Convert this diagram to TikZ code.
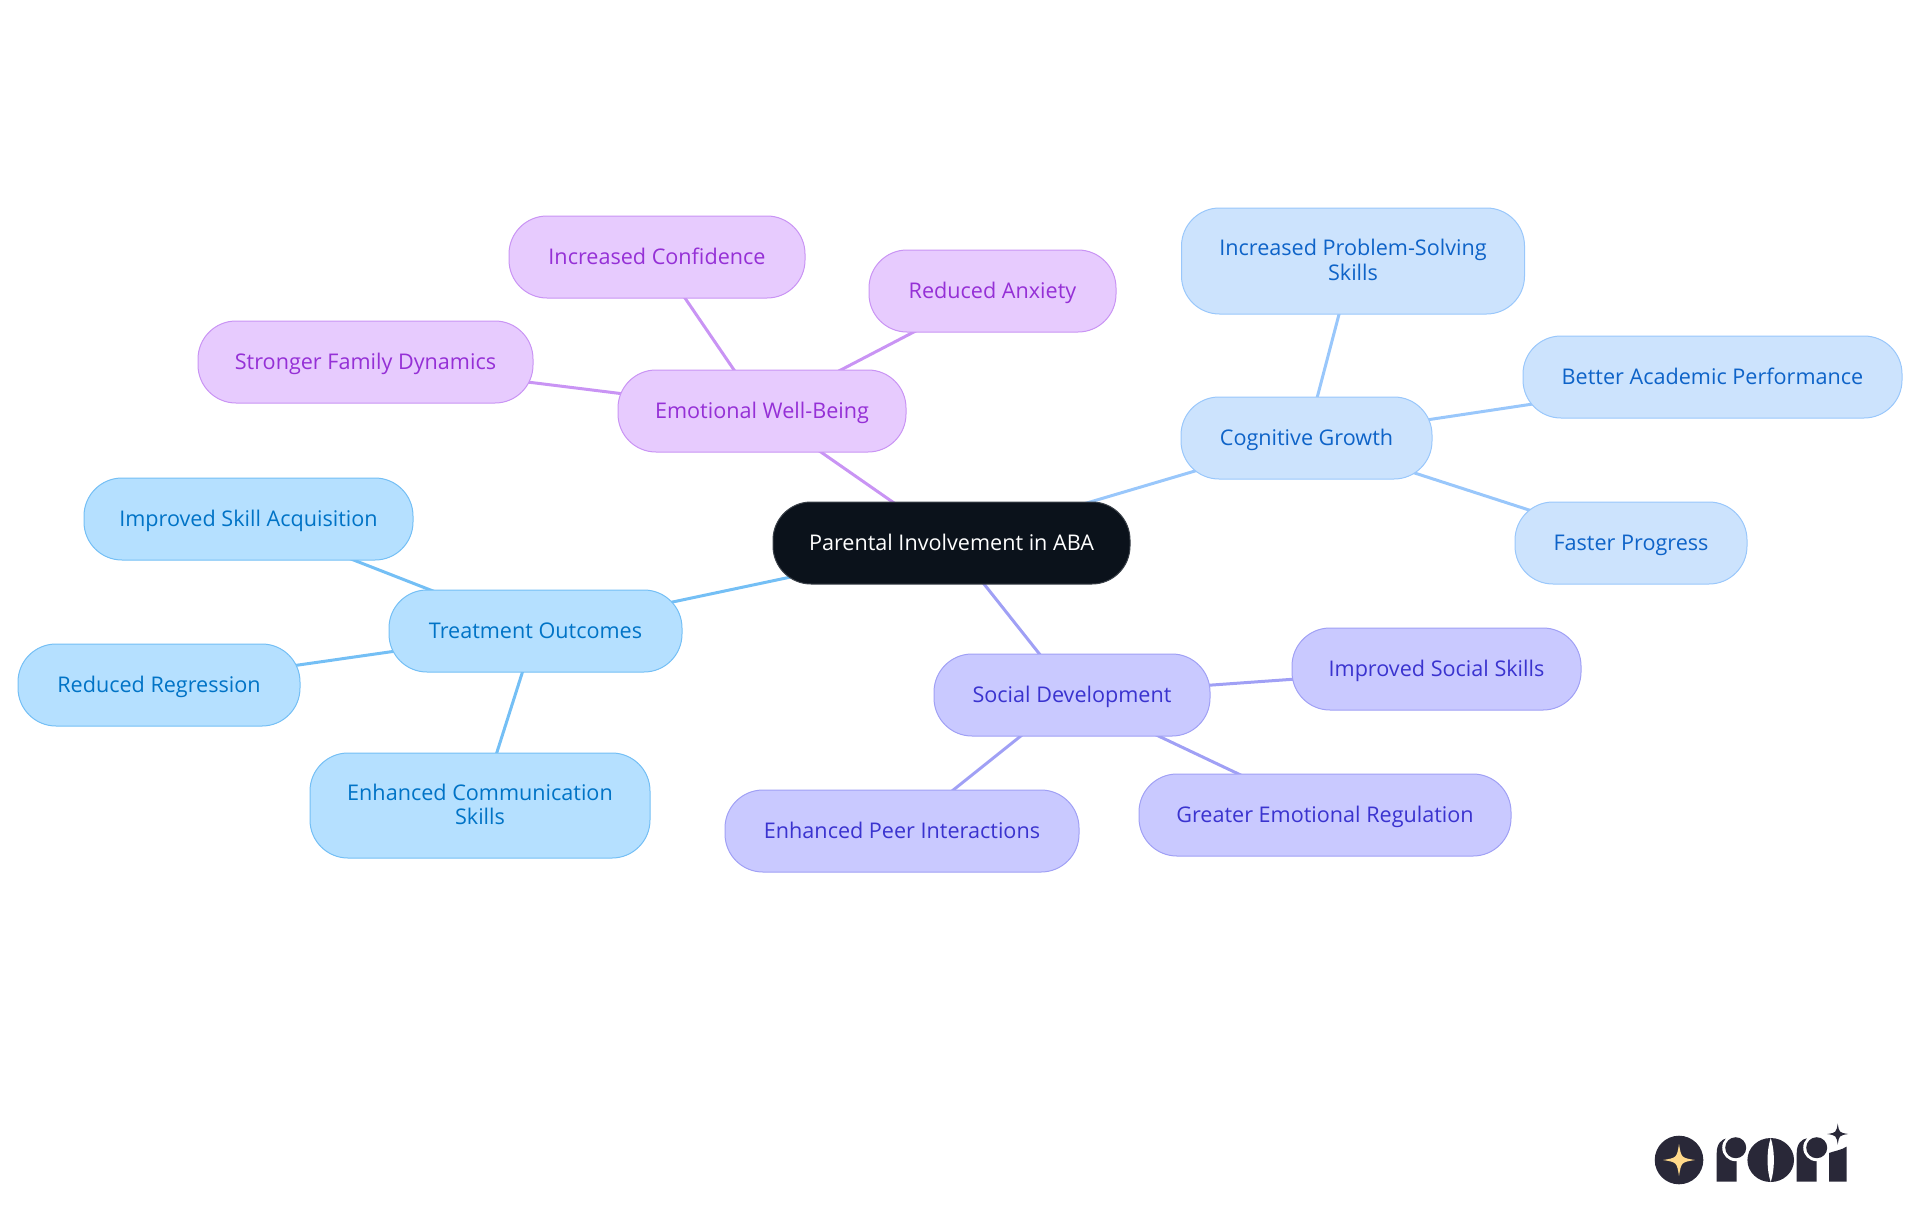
\documentclass[tikz,border=0pt]{standalone}
\usepackage{fontspec}
\setmainfont{Open Sans}
\usetikzlibrary{positioning, backgrounds}

\definecolor{rootfill}{HTML}{0B121B}
\definecolor{rootline}{HTML}{3A4048}
\definecolor{cogfill}{HTML}{CCE3FD}
\definecolor{cogline}{HTML}{99C7FB}
\definecolor{cogtext}{HTML}{0E63C8}
\definecolor{treatfill}{HTML}{B5E0FF}
\definecolor{treatline}{HTML}{74BFF5}
\definecolor{treattext}{HTML}{0073C6}
\definecolor{emofill}{HTML}{E7CBFE}
\definecolor{emoline}{HTML}{C994F4}
\definecolor{emotext}{HTML}{9530D6}
\definecolor{socfill}{HTML}{C9C9FF}
\definecolor{socline}{HTML}{A0A0F5}
\definecolor{soctext}{HTML}{3A33CF}
\definecolor{logodark}{HTML}{292838}
\definecolor{logogold}{HTML}{FFD98A}

\newcommand{\sparkle}[3]{\fill[#3, shift={(#1)}, scale=#2] (-1,0) .. controls (-.14,-.14) .. (0,-1) .. controls (.14,-.14) .. (1,0) .. controls (.14,.14) .. (0,1) .. controls (-.14,.14) .. (-1,0) -- cycle;}

\begin{document}
\begin{tikzpicture}[
    topic/.style={draw, rounded corners=19pt, align=center, minimum height=41pt,
                  inner sep=0pt, outer sep=0pt, line width=0.5pt,
                  text height=9pt, text depth=2pt,
                  font=\fontsize{10.8pt}{12.3pt}\selectfont},
    twoline/.style={text height=, text depth=1.2pt},
    rootbox/.style={topic, fill=rootfill, draw=rootline, text=white},
    cogbox/.style={topic, fill=cogfill, draw=cogline, text=cogtext},
    treatbox/.style={topic, fill=treatfill, draw=treatline, text=treattext},
    emobox/.style={topic, fill=emofill, draw=emoline, text=emotext},
    socbox/.style={topic, fill=socfill, draw=socline, text=soctext},
    link/.style={line width=1.5pt}
  ]
    \useasboundingbox (0,0) rectangle (960pt,-607.5pt);

    \node[rootbox, minimum width=178.5pt] (root) at (475.75pt,-271.5pt) {Parental Involvement in ABA};

    \node[cogbox, minimum width=125.5pt, above right=11.5pt and 25.5pt of root] (cog) {Cognitive Growth};
    \node[cogbox, twoline, minimum width=171.5pt, minimum height=53pt, above=41.5pt of cog, xshift=23.25pt] (problem) {Increased Problem-Solving\\Skills};
    \node[cogbox, minimum width=189.5pt, right=45.5pt of cog, yshift=30.5pt] (academic) {Better Academic Performance};
    \node[cogbox, minimum width=116pt, right=41.5pt of cog, yshift=-52.5pt] (faster) {Faster Progress};

    \node[socbox, minimum width=138pt, below=35pt of root, xshift=60.25pt] (social) {Social Development};
    \node[socbox, minimum width=144.5pt, right=41pt of social, yshift=13pt] (skills) {Improved Social Skills};
    \node[socbox, minimum width=186pt, below=19pt of social, xshift=126.5pt] (regulation) {Greater Emotional Regulation};
    \node[socbox, minimum width=177pt, below=27pt of social, xshift=-85pt] (peer) {Enhanced Peer Interactions};

    \node[treatbox, minimum width=146.5pt, left=45.5pt of root, yshift=-44pt] (treat) {Treatment Outcomes};
    \node[treatbox, minimum width=164.5pt, above=15pt of treat, xshift=-143.5pt] (acquire) {Improved Skill Acquisition};
    \node[treatbox, minimum width=141pt, left=44.5pt of treat, yshift=-27pt] (regress) {Reduced Regression};
    \node[treatbox, twoline, minimum width=170pt, minimum height=52.5pt, below=40.5pt of treat, xshift=-27.75pt] (comm) {Enhanced Communication\\Skills};

    \node[emobox, minimum width=144pt, above=25pt of root, xshift=-94.75pt] (emo) {Emotional Well-Being};
    \node[emobox, minimum width=148pt, above=36pt of emo, xshift=-52.5pt] (confidence) {Increased Confidence};
    \node[emobox, minimum width=123.5pt, above=19pt of emo, xshift=115.25pt] (anxiety) {Reduced Anxiety};
    \node[emobox, minimum width=167.5pt, left=42.5pt of emo, yshift=24.5pt] (family) {Stronger Family Dynamics};

    \begin{scope}[on background layer]
      \draw[link, cogline] (root.center) -- (cog.center);
      \draw[link, cogline] (cog.center) -- (problem.center);
      \draw[link, cogline] (cog.center) -- (academic.center);
      \draw[link, cogline] (cog.center) -- (faster.center);
      \draw[link, socline] (root.center) -- (social.center);
      \draw[link, socline] (social.center) -- (skills.center);
      \draw[link, socline] (social.center) -- (regulation.center);
      \draw[link, socline] (social.center) -- (peer.center);
      \draw[link, treatline] (root.center) -- (treat.center);
      \draw[link, treatline] (treat.center) -- (acquire.center);
      \draw[link, treatline] (treat.center) -- (regress.center);
      \draw[link, treatline] (treat.center) -- (comm.center);
      \draw[link, emoline] (root.center) -- (emo.center);
      \draw[link, emoline] (emo.center) -- (confidence.center);
      \draw[link, emoline] (emo.center) -- (anxiety.center);
      \draw[link, emoline] (emo.center) -- (family.center);
    \end{scope}

    \begin{scope}[x=0.5pt, y=-0.5pt]
      \fill[logodark] (1679,1160) circle (24.3);
      \sparkle{1679,1160}{16}{logogold}
      \fill[logodark] (1716.7,1181.7) -- (1716.7,1153) .. controls (1716.7,1144) and (1721,1139) .. (1728,1138) -- (1736.7,1138) -- (1736.7,1181.7) -- cycle;
      \fill[white] (1735.7,1147.7) circle (13.5);
      \fill[logodark] (1735.7,1147.7) circle (10.5);
      \fill[logodark] (1770.7,1160) ellipse (23.3 and 22);
      \fill[white] (1770.7,1138) .. controls (1766.5,1150) and (1766.5,1170) .. (1770.7,1182) .. controls (1774.9,1170) and (1774.9,1150) .. (1770.7,1138) -- cycle;
      \fill[logodark] (1796.7,1181.7) -- (1796.7,1153) .. controls (1796.7,1144) and (1801,1139) .. (1808,1138) -- (1816.7,1138) -- (1816.7,1181.7) -- cycle;
      \fill[white] (1816.7,1147.7) circle (13.5);
      \fill[logodark] (1816.7,1147.7) circle (10.5);
      \fill[logodark] (1829,1181.7) -- (1829,1153) .. controls (1834,1151) and (1842,1150) .. (1846.7,1146.5) -- (1846.7,1181.7) -- cycle;
      \sparkle{1837.7,1134}{10.5}{logodark}
    \end{scope}
  \end{tikzpicture}
\end{document}
